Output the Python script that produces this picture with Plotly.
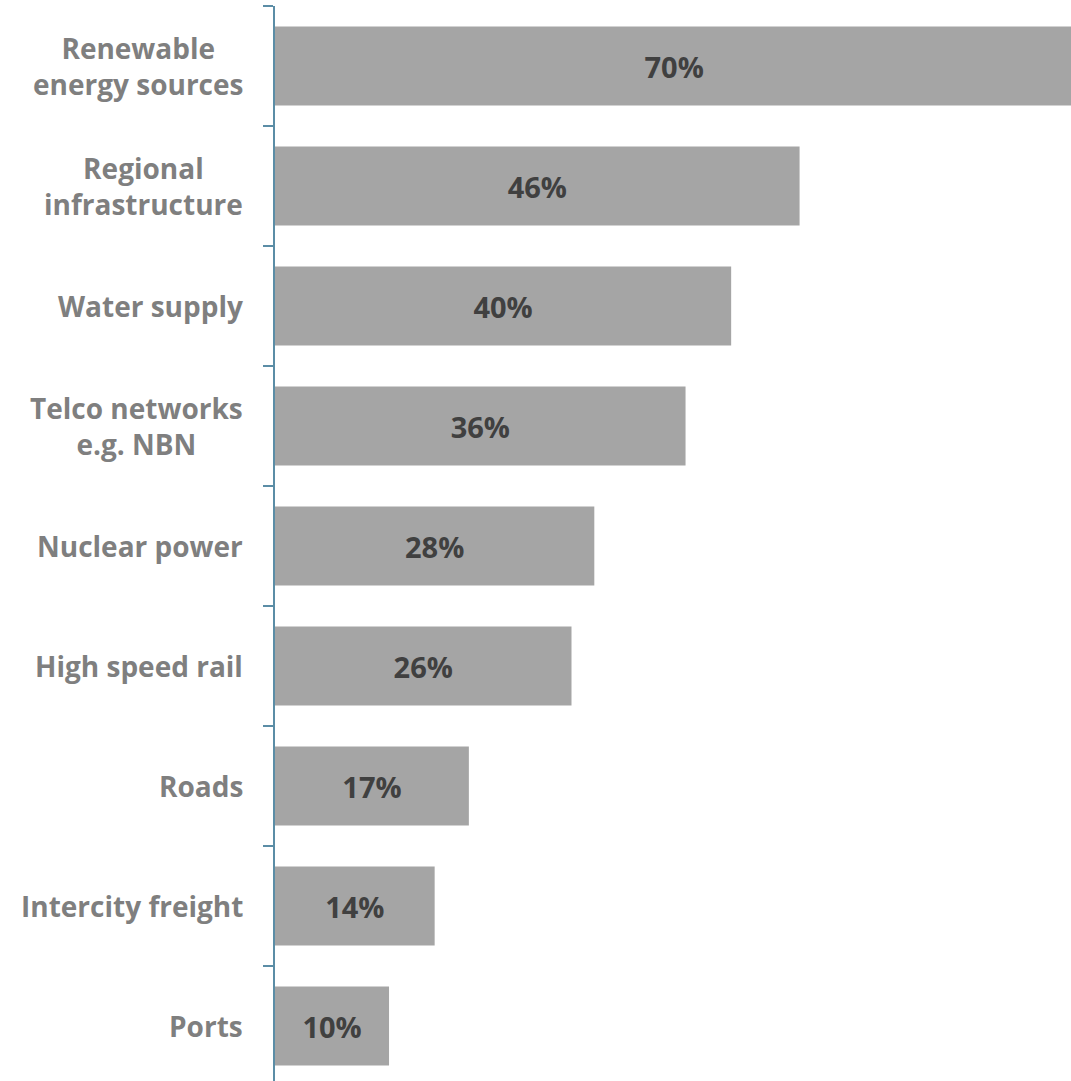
import plotly.graph_objects as go

# Share of respondents naming each infrastructure area
categories = [
    "Renewable<br>energy sources",
    "Regional<br>infrastructure",
    "Water supply",
    "Telco networks<br>e.g. NBN",
    "Nuclear power",
    "High speed rail",
    "Roads",
    "Intercity freight",
    "Ports",
]
values = [70, 46, 40, 36, 28, 26, 17, 14, 10]
value_labels = [f"{v}%" for v in values]

BAR = "#A5A5A5"
AXIS = "#5B8DA6"
LABEL = "#7F7F7F"
VALUE = "#404040"
FONT = "Open Sans"

fig = go.Figure(
    go.Bar(
        x=values,
        y=list(range(len(categories))),
        orientation="h",
        marker=dict(color=BAR, line=dict(width=0)),
        width=0.66,
        text=value_labels,
        textposition="inside",
        insidetextanchor="middle",
        textangle=0,
        constraintext="none",
        textfont=dict(family=FONT, size=29, color=VALUE, weight="bold"),
        hoverinfo="skip",
    )
)

# Category labels, centred line by line, to the left of the axis
for i, name in enumerate(categories):
    fig.add_annotation(
        x=0, xref="paper", xanchor="right", xshift=-30,
        y=i, yref="y", yanchor="middle",
        text=name, align="center", showarrow=False,
        font=dict(family=FONT, size=28, color=LABEL, weight="bold"),
    )

fig.update_layout(
    width=1071,
    height=1081,
    margin=dict(l=275, r=0, t=6, b=0),
    paper_bgcolor="white",
    plot_bgcolor="white",
    showlegend=False,
    bargap=0.34,
    xaxis=dict(
        range=[0, 69.8],
        showgrid=False,
        zeroline=False,
        showticklabels=False,
        showline=False,
        ticks="",
    ),
    yaxis=dict(
        range=[8.4583, -0.5],
        showgrid=False,
        zeroline=False,
        showticklabels=False,
        showline=True,
        linecolor=AXIS,
        linewidth=2,
        ticks="outside",
        ticklen=10,
        tickwidth=2,
        tickcolor=AXIS,
        tickmode="array",
        tickvals=[i - 0.5 for i in range(len(categories) + 1)],
    ),
)

fig.write_html("out.html")
